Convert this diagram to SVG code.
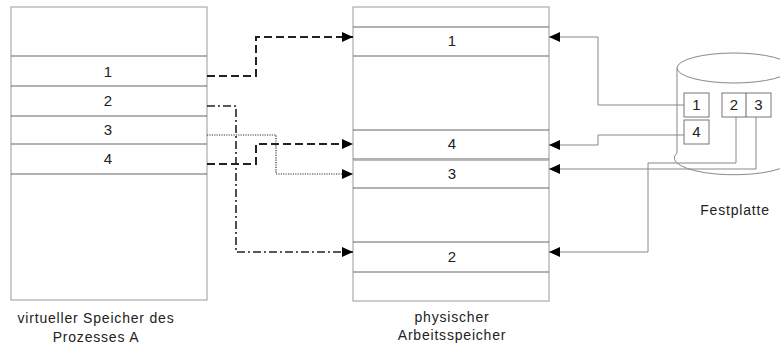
<svg xmlns="http://www.w3.org/2000/svg" width="780" height="348" viewBox="0 0 780 348">
<style>
.box{fill:#fff;stroke:#999;stroke-width:1}
.sep{stroke:#666;stroke-width:1}
.num{font-family:"Liberation Sans",Arial,sans-serif;font-size:15px;fill:#222;text-anchor:middle}
.lbl{font-family:"Liberation Sans",Arial,sans-serif;font-size:14px;fill:#222;text-anchor:middle;letter-spacing:0.8px}
.dash{fill:none;stroke:#222;stroke-width:2;stroke-dasharray:8 4}
.dashdot{fill:none;stroke:#222;stroke-width:1.6;stroke-dasharray:8 3 2 3}
.dot{fill:none;stroke:#333;stroke-width:1.2;stroke-dasharray:1.2 1.2}
.thin{fill:none;stroke:#888;stroke-width:1}
.sbox{fill:#fff;stroke:#777;stroke-width:1}
</style>
<defs>
<marker id="ah" markerWidth="12" markerHeight="12" refX="11" refY="6" orient="auto" markerUnits="userSpaceOnUse">
<path d="M0,1 L11,6 L0,11 Z" fill="#000"/>
</marker>
</defs>

<g id="virtual">
<rect class="box" x="11" y="7" width="196" height="293"/>
<line class="sep" x1="11" y1="56" x2="207" y2="56"/>
<line class="sep" x1="11" y1="86" x2="207" y2="86"/>
<line class="sep" x1="11" y1="116" x2="207" y2="116"/>
<line class="sep" x1="11" y1="144" x2="207" y2="144"/>
<line class="sep" x1="11" y1="174" x2="207" y2="174"/>
<text class="num" x="108" y="77">1</text>
<text class="num" x="108" y="106">2</text>
<text class="num" x="108" y="135">3</text>
<text class="num" x="108" y="164">4</text>
<text class="lbl" x="96" y="323">virtueller Speicher des</text>
<text class="lbl" x="96" y="342">Prozesses A</text>
</g>

<g id="physical">
<rect class="box" x="353" y="7" width="196" height="294"/>
<line class="sep" x1="353" y1="27" x2="549" y2="27"/>
<line class="sep" x1="353" y1="56" x2="549" y2="56"/>
<line class="sep" x1="353" y1="130" x2="549" y2="130"/>
<line class="sep" x1="353" y1="159" x2="549" y2="159"/>
<line class="sep" x1="353" y1="160.5" x2="549" y2="160.5" style="stroke:#bbb"/>
<line class="sep" x1="353" y1="188" x2="549" y2="188"/>
<line class="sep" x1="353" y1="242" x2="549" y2="242"/>
<line class="sep" x1="353" y1="272" x2="549" y2="272"/>
<text class="num" x="452" y="46">1</text>
<text class="num" x="452" y="149">4</text>
<text class="num" x="452" y="179">3</text>
<text class="num" x="452" y="262">2</text>
<text class="lbl" x="452" y="322">physischer</text>
<text class="lbl" x="452" y="340">Arbeitsspeicher</text>
</g>

<g id="disk">
<path d="M677,68 L677,153 A57,16 0 0 0 791,163" fill="none" stroke="#888" stroke-width="1"/>
<ellipse cx="734" cy="68" rx="57" ry="15" fill="none" stroke="#888" stroke-width="1"/>
<rect class="sbox" x="684" y="93" width="25" height="24"/>
<text class="num" x="696.5" y="110">1</text>
<rect class="sbox" x="684" y="120" width="25" height="24"/>
<text class="num" x="696.5" y="137">4</text>
<rect class="sbox" x="722" y="93" width="49" height="24"/>
<line class="sep" x1="746" y1="93" x2="746" y2="117"/>
<text class="num" x="734" y="110">2</text>
<text class="num" x="758.5" y="110">3</text>
<text class="lbl" x="735" y="215">Festplatte</text>
</g>

<g id="connectors">
<path class="dash" d="M207,76 H256 V37 H353" marker-end="url(#ah)"/>
<path class="dashdot" d="M207,106 H236 V252 H353" marker-end="url(#ah)"/>
<path class="dot" d="M207,135 H276 V174 H353" marker-end="url(#ah)"/>
<path class="dash" d="M207,164 H256 V144 H353" marker-end="url(#ah)"/>
<path class="thin" d="M684,105 H598 V37 H549" marker-end="url(#ah)"/>
<path class="thin" d="M684,135 H598 V145 H549" marker-end="url(#ah)"/>
<path class="thin" d="M736,117 V163 H648 V252 H549" marker-end="url(#ah)"/>
<path class="thin" d="M756,117 V169 H549" marker-end="url(#ah)"/>
</g>
</svg>
